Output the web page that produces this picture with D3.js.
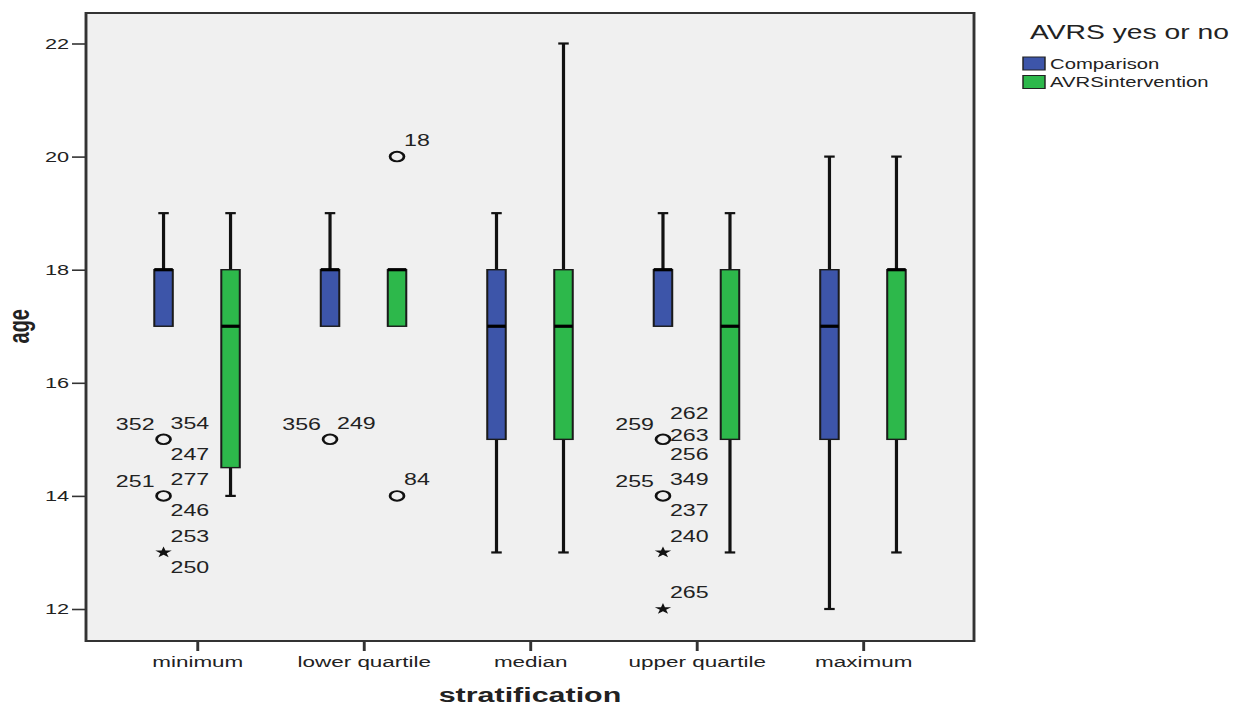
<!DOCTYPE html>
<html>
<head>
<meta charset="utf-8">
<script src="https://cdn.jsdelivr.net/npm/d3@7"></script>
<style>
  body { margin: 0; background: #fff; }
  text { font-family: "Liberation Sans", Arial, sans-serif; fill: #222; }
</style>
</head>
<body>
<svg id="svg" width="1241" height="710"></svg>
<script>
// data
const categories = ["minimum", "lower quartile", "median", "upper quartile", "maximum"];
const groups = ["Comparison", "AVRSintervention"];

const comparisonLow  = [17, 17, 13, 17, 12];
const comparisonQ1   = [17, 17, 15, 17, 15];
const comparisonMed  = [18, 18, 17, 18, 17];
const comparisonQ3   = [18, 18, 18, 18, 18];
const comparisonHigh = [19, 19, 19, 19, 20];

const interventionLow  = [14, 17, 13, 13, 13];
const interventionQ1   = [14.5, 17, 15, 15, 15];
const interventionMed  = [17, 18, 17, 17, 18];
const interventionQ3   = [18, 18, 18, 18, 18];
const interventionHigh = [19, 18, 22, 19, 20];

const yTicks = [12, 14, 16, 18, 20, 22];

// outliers: o = circle, * = extreme
const outliers = [
  { cat: "minimum", group: "Comparison", value: 15, kind: "o", labels: [["352", "L"], ["354", "UR"], ["247", "DR"]] },
  { cat: "minimum", group: "Comparison", value: 14, kind: "o", labels: [["251", "L"], ["277", "UR"], ["246", "DR"]] },
  { cat: "minimum", group: "Comparison", value: 13, kind: "*", labels: [["253", "UR"], ["250", "DR"]] },
  { cat: "lower quartile", group: "Comparison", value: 15, kind: "o", labels: [["356", "L"], ["249", "UR"]] },
  { cat: "lower quartile", group: "AVRSintervention", value: 20, kind: "o", labels: [["18", "UR"]] },
  { cat: "lower quartile", group: "AVRSintervention", value: 14, kind: "o", labels: [["84", "UR"]] },
  { cat: "upper quartile", group: "Comparison", value: 15, kind: "o", labels: [["259", "L"], ["262", "UUR"], ["263", "R"], ["256", "DR"]] },
  { cat: "upper quartile", group: "Comparison", value: 14, kind: "o", labels: [["255", "L"], ["349", "UR"], ["237", "DR"]] },
  { cat: "upper quartile", group: "Comparison", value: 13, kind: "*", labels: [["240", "UR"]] },
  { cat: "upper quartile", group: "Comparison", value: 12, kind: "*", labels: [["265", "UR"]] }
];

const colors = { "Comparison": "#3d55a9", "AVRSintervention": "#2db84b" };

// the original picture is stretched horizontally, so draw in a squeezed space
const SX = 1.45;
const plot = { left: 86 / SX, right: 974 / SX, top: 13, bottom: 641 };

const boxes = [];
categories.forEach((c, i) => {
  boxes.push({ cat: c, group: groups[0], low: comparisonLow[i], q1: comparisonQ1[i], med: comparisonMed[i], q3: comparisonQ3[i], high: comparisonHigh[i] });
  boxes.push({ cat: c, group: groups[1], low: interventionLow[i], q1: interventionQ1[i], med: interventionMed[i], q3: interventionQ3[i], high: interventionHigh[i] });
});

let xScale = d3.scalePoint()
  .domain(categories)
  .range([plot.left, plot.right])
  .padding(0.667);
let gScale = d3.scalePoint()
  .domain(groups)
  .range([-33.5 / SX, 33.5 / SX]);
let yScale = d3.scaleLinear()
  .domain([12, 22])
  .range([609, 43.5]);

const boxW = 18.5 / SX;
const capW = 10.5 / SX;
const cx = d => xScale(d.cat) + gScale(d.group);

let root = d3.select('#svg').append('g')
  .attr('transform', `scale(${SX},1)`);

// plot background
root.append('rect')
  .attr('x', plot.left).attr('y', plot.top)
  .attr('width', plot.right - plot.left).attr('height', plot.bottom - plot.top)
  .attr('fill', '#f0f0f0');

// axes
let yAxis = d3.axisLeft(yScale).tickValues(yTicks).tickSize(14 / SX).tickPadding(2).tickSizeOuter(0);
let gy = root.append('g').attr('transform', `translate(${plot.left},0)`).call(yAxis);
gy.select('.domain').remove();
gy.selectAll('.tick line').attr('stroke', '#333').attr('stroke-width', 1.6);
gy.selectAll('.tick text').attr('font-size', 15).attr('fill', '#222')
  .style('font-family', '"Liberation Sans", Arial, sans-serif');

let xAxis = d3.axisBottom(xScale).tickSize(10).tickPadding(5).tickSizeOuter(0);
let gx = root.append('g').attr('transform', `translate(0,${plot.bottom})`).call(xAxis);
gx.select('.domain').remove();
gx.selectAll('.tick line').attr('stroke', '#333').attr('stroke-width', 2);
gx.selectAll('.tick text').attr('font-size', 15.5).attr('fill', '#222')
  .style('font-family', '"Liberation Sans", Arial, sans-serif');

// whiskers
let bx = root.append('g');
boxes.forEach(d => {
  const x = cx(d);
  [[d.q3, d.high], [d.q1, d.low]].forEach(([from, to]) => {
    if (from === to) return;
    bx.append('line')
      .attr('x1', x).attr('x2', x)
      .attr('y1', yScale(from)).attr('y2', yScale(to))
      .attr('stroke', '#111').attr('stroke-width', 2.2);
    bx.append('line')
      .attr('x1', x - capW / 2).attr('x2', x + capW / 2)
      .attr('y1', yScale(to)).attr('y2', yScale(to))
      .attr('stroke', '#111').attr('stroke-width', 2.2);
  });
});

// boxes
bx.selectAll('rect.box')
  .data(boxes)
  .enter().append('rect')
  .attr('class', 'box')
  .attr('x', d => cx(d) - boxW / 2)
  .attr('width', boxW)
  .attr('y', d => yScale(d.q3))
  .attr('height', d => yScale(d.q1) - yScale(d.q3))
  .attr('fill', d => colors[d.group])
  .attr('stroke', '#1a1a1a')
  .attr('stroke-width', 1.4);

// medians
bx.selectAll('line.med')
  .data(boxes)
  .enter().append('line')
  .attr('class', 'med')
  .attr('x1', d => cx(d) - boxW / 2)
  .attr('x2', d => cx(d) + boxW / 2)
  .attr('y1', d => yScale(d.med))
  .attr('y2', d => yScale(d.med))
  .attr('stroke', '#000')
  .attr('stroke-width', 3.2);

// outliers
const slotOffset = {
  L:   { dx: -9 / SX, dy: -15, anchor: 'end' },
  UR:  { dx: 7 / SX, dy: -16.5, anchor: 'start' },
  UUR: { dx: 7 / SX, dy: -26, anchor: 'start' },
  R:   { dx: 7 / SX, dy: -4, anchor: 'start' },
  DR:  { dx: 7 / SX, dy: 14.5, anchor: 'start' }
};
let og = root.append('g');
outliers.forEach(d => {
  const x = cx(d), y = yScale(d.value);
  if (d.kind === 'o') {
    og.append('circle')
      .attr('cx', x).attr('cy', y).attr('r', 4.8)
      .attr('fill', 'none').attr('stroke', '#111').attr('stroke-width', 1.9);
  } else {
    og.append('path')
      .attr('transform', `translate(${x},${y})`)
      .attr('d', d3.symbol(d3.symbolStar, 40)())
      .attr('fill', '#111');
  }
  d.labels.forEach(([txt, slot]) => {
    const o = slotOffset[slot];
    og.append('text')
      .attr('x', x + o.dx).attr('y', y + o.dy)
      .attr('dy', '0.36em')
      .attr('text-anchor', o.anchor)
      .attr('font-size', 16)
      .text(txt);
  });
});

// plot border
root.append('rect')
  .attr('x', plot.left).attr('y', plot.top)
  .attr('width', plot.right - plot.left).attr('height', plot.bottom - plot.top)
  .attr('fill', 'none')
  .attr('stroke', '#333')
  .attr('stroke-width', 2);

// axis titles
root.append('text')
  .attr('x', (plot.left + plot.right) / 2).attr('y', 702)
  .attr('text-anchor', 'middle')
  .attr('font-size', 21).attr('font-weight', 'bold')
  .text('stratification');
root.append('text')
  .attr('transform', `translate(${29 / SX},${yScale(17)}) rotate(-90)`)
  .attr('text-anchor', 'middle')
  .attr('font-size', 20).attr('font-weight', 'bold')
  .text('age');

// legend
let lg = root.append('g');
lg.append('text')
  .attr('x', 1030 / SX).attr('y', 39)
  .attr('font-size', 19.5)
  .text('AVRS yes or no');
groups.forEach((g, i) => {
  lg.append('rect')
    .attr('x', 1023 / SX).attr('y', 57 + i * 18.5)
    .attr('width', 22 / SX).attr('height', 13)
    .attr('fill', colors[g]).attr('stroke', '#222').attr('stroke-width', 1);
  lg.append('text')
    .attr('x', 1050 / SX).attr('y', 63.5 + i * 18.5)
    .attr('dy', '0.36em')
    .attr('font-size', 14)
    .text(g);
});
</script>
</body>
</html>
